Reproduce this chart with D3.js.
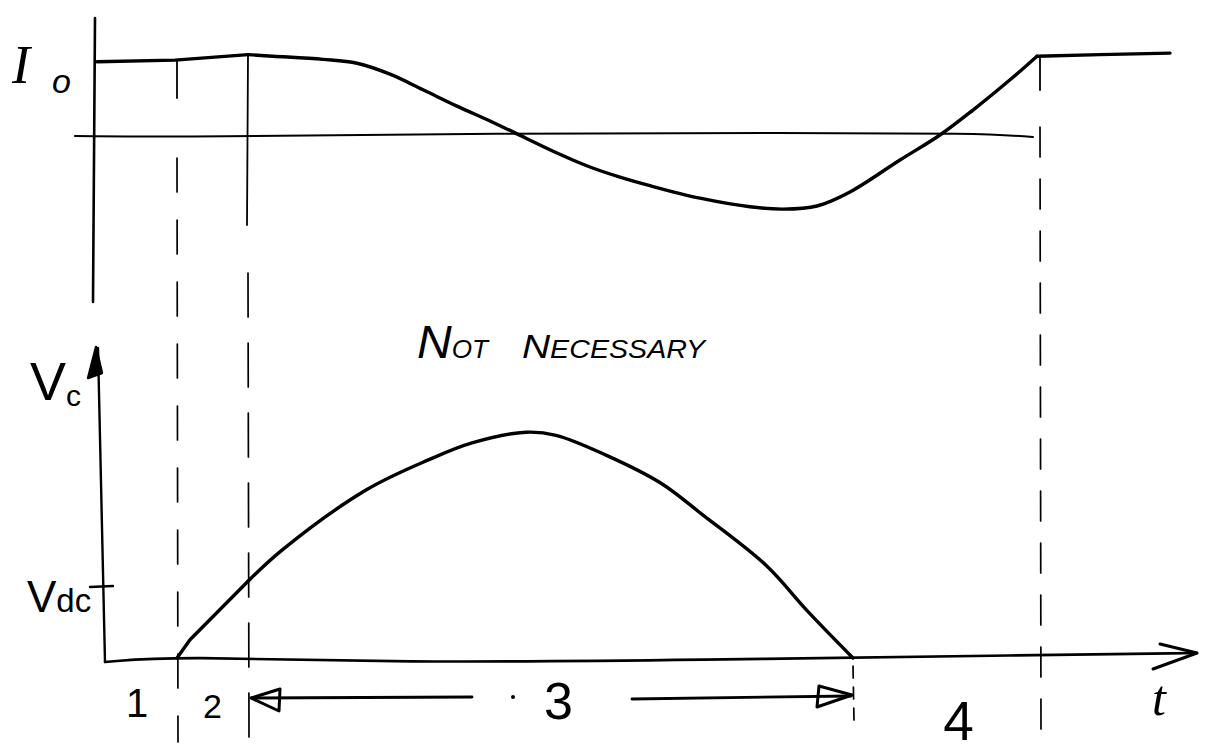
<!DOCTYPE html>
<html>
<head>
<meta charset="utf-8">
<script src="https://cdn.jsdelivr.net/npm/d3@7"></script>
<style>
  html, body { margin: 0; background: #fff; }
  svg { display: block; }
</style>
</head>
<body>
<svg id="chart" width="1207" height="756"></svg>
<script>
// Switching-cycle sketch: inductor current (top) and capacitor voltage (bottom)
// Time is in arbitrary units across one cycle.

// Inductor current, normalised to I0
const currentTime  = [0, 7.8, 15.1, 17.6, 22.6, 26.0, 29.3, 32.6, 36.0, 39.3, 41.6, 46.0, 49.3, 52.3, 55.3, 60.3, 65.3, 68.6, 72.0, 75.3, 80.3, 84.3, 87.6, 91.6, 94.0, 100.3, 107.3];
const currentValue = [0.94, 0.96, 1.03, 1.01, 0.97, 0.92, 0.78, 0.58, 0.37, 0.18, 0.04, -0.23, -0.41, -0.54, -0.65, -0.81, -0.92, -0.95, -0.91, -0.73, -0.32, 0.00, 0.32, 0.74, 1.01, 1.03, 1.05];

// Capacitor voltage, normalised to Vdc
const voltageTime  = [8.0, 9.3, 15.1, 18.5, 26.9, 33.2, 37.5, 42.9, 45.9, 50.9, 56.4, 60.6, 66.9, 71.1, 75.6];
const voltageValue = [0, 0.24, 1.01, 1.42, 2.21, 2.61, 2.83, 2.97, 2.93, 2.67, 2.30, 1.88, 1.22, 0.61, 0];

// Interval boundaries and their labels
const intervalBounds = [8.0, 15.1, 75.6, 94.3];
const intervalLabels = ["1", "2", "3", "4"];

// Axis labels
const currentLevelLabel = ["I", "o"];
const voltageAxisLabel  = ["V", "c"];
const voltageLevelLabel = ["V", "dc"];
const timeAxisLabel = "t";
const noteWords = [["N", "OT"], ["N", "ECESSARY"]];

const svg = d3.select("#chart");
const ink = "#000";

const x  = d3.scaleLinear().domain([0, 110]).range([97, 1197]);
const yI = d3.scaleLinear().domain([0, 1]).range([135, 57]);
const yV = d3.scaleLinear().domain([0, 1]).range([658, 582]);

const g = svg.append("g")
  .attr("fill", "none")
  .attr("stroke", ink)
  .attr("stroke-linecap", "round")
  .attr("stroke-linejoin", "round");

// ---- top panel axes ----
g.append("line")
  .attr("x1", x(0) - 2).attr("y1", 18)
  .attr("x2", x(0) - 4).attr("y2", 302)
  .attr("stroke-width", 2.6);

g.append("path")
  .attr("d", d3.line().curve(d3.curveBasis)([
    [x(-2.2), yI(0) + 1], [x(10), yI(0) + 2], [x(40), yI(0) - 2],
    [x(70), yI(0) - 2], [x(88), yI(0) - 2], [x(93.6), yI(0) + 2]
  ]))
  .attr("stroke-width", 2);

// ---- interval boundary lines ----
const bx = intervalBounds.map(x);
// solid parts in the current panel
[[0, yI(1) + 3, 98], [1, yI(1) - 2, 225], [3, yI(1) - 1, 90]].forEach(([i, a, b]) => {
  g.append("line")
    .attr("x1", bx[i]).attr("y1", a)
    .attr("x2", bx[i] + (i === 1 ? -1 : 0)).attr("y2", b)
    .attr("stroke-width", 1.8);
});
// dashed continuations
[[0, 158, 742, "34,28"], [1, 273, 737, "44,26"], [2, 666, 720, "12,9"], [3, 127, 735, "30,22"]].forEach(([i, a, b, dash]) => {
  g.append("line")
    .attr("x1", bx[i]).attr("y1", a)
    .attr("x2", bx[i] + 1).attr("y2", b)
    .attr("stroke-width", 1.7)
    .attr("stroke-dasharray", dash);
});

// draws a series in pieces: straight runs and smooth runs
function drawSeries(ts, vs, yScale, pieces) {
  const pts = ts.map((t, i) => [x(t), yScale(vs[i])]);
  pieces.forEach(([from, to, curve]) => {
    g.append("path")
      .attr("d", d3.line().curve(curve)(pts.slice(from, to + 1)))
      .attr("stroke-width", 3.4);
  });
}

// ---- inductor current ----
drawSeries(currentTime, currentValue, yI, [
  [0, 2, d3.curveLinear],
  [2, 24, d3.curveCatmullRom.alpha(0.5)],
  [24, 26, d3.curveLinear]
]);

// ---- bottom panel axes ----
g.append("line")
  .attr("x1", x(0) + 1).attr("y1", 348)
  .attr("x2", x(0) + 8).attr("y2", yV(0) + 4)
  .attr("stroke-width", 2.4);
// arrow tip on the voltage axis
g.append("path")
  .attr("d", `M${x(0) - 1},347 L${x(0) - 9},378 L${x(0) + 5},373 Z`)
  .attr("fill", ink)
  .attr("stroke-width", 2.4);

g.append("path")
  .attr("d", d3.line().curve(d3.curveBasis)([
    [x(0) + 8, yV(0) + 4], [x(8), yV(0) - 2], [x(30), yV(0) + 5],
    [x(60), yV(0) + 2], [x(94.3), yV(0) - 3], [x(110), yV(0) - 5]
  ]))
  .attr("stroke-width", 2.6);
// time axis arrowhead
g.append("path")
  .attr("d", `M${x(106.3)},${yV(0) - 14} L${x(110)},${yV(0) - 5} L${x(105.6)},${yV(0) + 11}`)
  .attr("stroke-width", 3);

// Vdc tick
g.append("line")
  .attr("x1", x(0) - 7).attr("y1", yV(1) + 5)
  .attr("x2", x(0) + 16).attr("y2", yV(1) + 4)
  .attr("stroke-width", 2.4);

// ---- capacitor voltage ----
drawSeries(voltageTime, voltageValue, yV, [
  [0, 2, d3.curveLinear],
  [2, voltageTime.length - 1, d3.curveCatmullRom.alpha(0.5)]
]);

// ---- interval 3 span arrows ----
const arrowY = 698;
g.append("line")
  .attr("x1", bx[1] + 4).attr("y1", arrowY)
  .attr("x2", 472).attr("y2", arrowY - 1)
  .attr("stroke-width", 2.8);
g.append("path")
  .attr("d", `M${bx[1] + 3},${arrowY} L${bx[1] + 32},${arrowY - 9} L${bx[1] + 31},${arrowY + 13} Z`)
  .attr("stroke-width", 3);
g.append("line")
  .attr("x1", 632).attr("y1", arrowY + 1)
  .attr("x2", bx[2] - 2).attr("y2", arrowY - 2)
  .attr("stroke-width", 2.8);
g.append("path")
  .attr("d", `M${bx[2] - 1},${arrowY - 3} L${bx[2] - 34},${arrowY - 12} L${bx[2] - 36},${arrowY + 9} Z`)
  .attr("stroke-width", 3);

svg.append("circle").attr("cx", 513).attr("cy", arrowY - 1).attr("r", 2).attr("fill", ink);

// ---- text ----
const txt = svg.append("g").attr("fill", ink).attr("font-family", "Liberation Sans, Arial, sans-serif");

// I_o
const io = txt.append("text").attr("x", 12).attr("y", 83)
  .attr("font-family", "Liberation Serif, serif").attr("font-style", "italic");
io.append("tspan").attr("font-size", 54).text(currentLevelLabel[0]);
io.append("tspan").attr("font-size", 34).attr("dx", 22).attr("dy", 10)
  .attr("font-family", "Liberation Sans, sans-serif").text(currentLevelLabel[1]);

// V_c
const vc = txt.append("text").attr("x", 30).attr("y", 400);
vc.append("tspan").attr("font-size", 54).text(voltageAxisLabel[0]);
vc.append("tspan").attr("font-size", 30).attr("dy", 6).text(voltageAxisLabel[1]);

// V_dc
const vdc = txt.append("text").attr("x", 27).attr("y", 612);
vdc.append("tspan").attr("font-size", 44).text(voltageLevelLabel[0]);
vdc.append("tspan").attr("font-size", 33).text(voltageLevelLabel[1]);

// note
const noteX = [417, 522], noteW = [71, 183];
noteWords.forEach((w, i) => {
  const t = txt.append("text").attr("x", noteX[i]).attr("y", 358)
    .attr("font-style", "italic")
    .attr("textLength", noteW[i]).attr("lengthAdjust", "spacingAndGlyphs");
  t.append("tspan").attr("font-size", i === 0 ? 46 : 34).text(w[0]);
  t.append("tspan").attr("font-size", 25).text(w[1]);
});

// interval numbers
const labelSize = [40, 34, 52, 55];
const labelBase = [717, 718, 719, 740];
const edges = [0, ...intervalBounds];
intervalLabels.forEach((s, i) => {
  const mid = (x(edges[i]) + x(edges[i + 1])) / 2;
  txt.append("text")
    .attr("x", mid + (i === 3 ? 12 : i === 2 ? 8 : 0)).attr("y", labelBase[i])
    .attr("text-anchor", "middle")
    .attr("font-size", labelSize[i])
    .text(s);
});

// time axis label
txt.append("text").attr("x", 1152).attr("y", 715)
  .attr("font-family", "Liberation Serif, serif").attr("font-style", "italic")
  .attr("font-size", 50).text(timeAxisLabel);
</script>
</body>
</html>
